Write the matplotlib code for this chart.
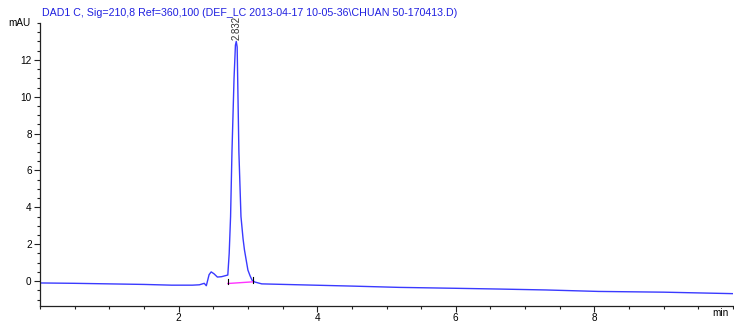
import matplotlib
matplotlib.use("Agg")
import matplotlib.pyplot as plt
from matplotlib.ticker import MultipleLocator

plt.rcParams['font.family'] = ['Liberation Sans', 'DejaVu Sans']

# Chromatogram data (time in min, signal in mAU)
time = [0.0, 0.5, 1.0, 1.5, 1.9, 2.2, 2.3, 2.37, 2.40, 2.44, 2.47, 2.51, 2.56,
        2.62, 2.68, 2.71, 2.73, 2.75, 2.77, 2.80, 2.82, 2.832, 2.845, 2.87,
        2.90, 2.93, 2.95, 3.00, 3.03, 3.06, 3.10, 3.20, 3.74, 4.50, 5.18, 6.00,
        6.62, 7.30, 8.06, 9.00, 10.0]
signal = [-0.10, -0.12, -0.15, -0.18, -0.22, -0.22, -0.20, -0.12, -0.25, 0.35,
          0.50, 0.40, 0.22, 0.24, 0.30, 0.33, 1.5, 3.5, 7.0, 11.0, 12.8, 13.0,
          12.7, 7.0, 3.5, 2.3, 1.7, 0.6, 0.3, 0.05, -0.05, -0.15, -0.20, -0.27,
          -0.34, -0.39, -0.43, -0.48, -0.56, -0.60, -0.68]

# Integration baseline
base_t = [2.71, 3.07]
base_y = [-0.13, -0.04]

peak_rt = 2.832
peak_h = 13.0
peak_label = "2.832"
title = "DAD1 C, Sig=210,8 Ref=360,100 (DEF_LC 2013-04-17 10-05-36\\CHUAN 50-170413.D)"

fig = plt.figure(figsize=(7.34, 3.23), dpi=100)
ax = fig.add_axes([40/734, 1-306/323, 693/734, (306-23)/323])

ax.plot(time, signal, color='#3a3aff', lw=1.0)
ax.plot(base_t, base_y, color='#ff33ff', lw=1.0)
for bt, by in zip(base_t, base_y):
    ax.plot([bt, bt], [by - 0.05, by + 0.25], color='black', lw=0.8)

ax.set_xlim(0, 10)
ax.set_ylim(-1.35, 14.0)

ax.spines['top'].set_visible(False)
ax.spines['right'].set_visible(False)
for s in ('left', 'bottom'):
    ax.spines[s].set_linewidth(0.9)
    ax.spines[s].set_color('#222222')

ax.xaxis.set_minor_locator(MultipleLocator(0.5))
ax.yaxis.set_minor_locator(MultipleLocator(0.5))
ax.set_xticks([2, 4, 6, 8])
ax.set_xticklabels(['2', '4', '6', '8'])
ax.set_yticks([0, 2, 4, 6, 8, 10, 12])
ax.tick_params(which='major', direction='out', length=4, width=0.8, labelsize=7.2,
               color='#222222', pad=2)
ax.tick_params(axis='x', which='major', pad=0.8)
ax.tick_params(which='minor', direction='out', length=2, width=0.8, color='#222222')

ax.text(-0.13, 14.0, 'mAU', ha='right', va='center', fontsize=7.2,
        transform=ax.transData, clip_on=False)
ax.text(9.82, -1.45, 'min', ha='center', va='top', fontsize=7.2,
        transform=ax.transData, clip_on=False)
ax.text(0.03, 14.55, title, ha='left', va='center', fontsize=7.7,
        color='#2020e0', clip_on=False)
ax.text(peak_rt, peak_h + 0.1, peak_label, rotation=90, ha='center',
        va='bottom', fontsize=7, color='#333333', clip_on=False)

fig.savefig('out.png', dpi=100)
